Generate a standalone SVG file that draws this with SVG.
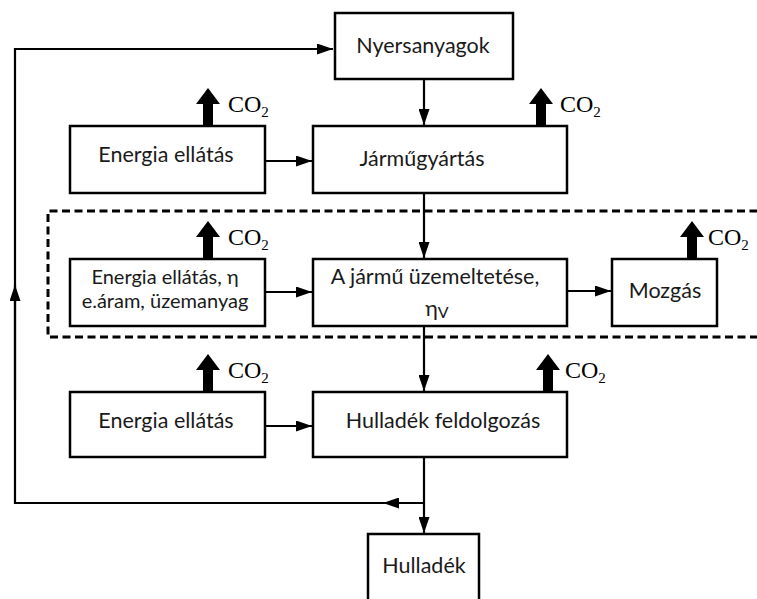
<svg xmlns="http://www.w3.org/2000/svg" width="757" height="599" viewBox="0 0 757 599">
  <defs>
    <style>
      .box { fill: #fff; stroke: #000; stroke-width: 2.5; }
      .lbl { font-family: Lato, "Liberation Sans", sans-serif; font-size: 21.5px; fill: #1a1a1a; text-anchor: middle; }
      .lbl.two { font-size: 20px; }
      .co2 { font-family: "Liberation Serif", "DejaVu Serif", serif; font-size: 24px; fill: #000; }
      .sub { font-size: 15px; }
      .wire { fill: none; stroke: #000; stroke-width: 2.2; }
      .dash { fill: none; stroke: #000; stroke-width: 3; stroke-dasharray: 8 4.5; }
      .emit { fill: #000; }
    </style>
    <marker id="tip" viewBox="0 0 16 11" refX="16" refY="5.5" markerWidth="16" markerHeight="11" markerUnits="userSpaceOnUse" orient="auto">
      <path d="M0,0 L16,5.5 L0,11 Z" fill="#000"/>
    </marker>
    <!-- thick upward emission arrow, origin at the base centre -->
    <path id="emitArrow" d="M-5,0 L-5,-22 L-12,-22 L0,-38 L12,-22 L5,-22 L5,0 Z"/>
  </defs>

  <rect width="757" height="599" fill="#fff"/>

  <!-- use-phase boundary -->
  <path class="dash" d="M770,211 L48,211 L48,337 L770,337"/>

  <g id="connectors">
    <!-- recycling loop back to raw materials -->
    <path class="wire" d="M424,503 L15,503 L15,49 L333,49" marker-end="url(#tip)"/>
    <path class="wire" d="M424,503 L383,503" marker-end="url(#tip)"/>
    <path class="wire" d="M15,400 L15,285" marker-end="url(#tip)"/>
    <!-- main chain -->
    <path class="wire" d="M424,79 L424,125" marker-end="url(#tip)"/>
    <path class="wire" d="M424,193 L424,258" marker-end="url(#tip)"/>
    <path class="wire" d="M424,326 L424,391" marker-end="url(#tip)"/>
    <path class="wire" d="M424,457 L424,533" marker-end="url(#tip)"/>
    <!-- energy inputs -->
    <path class="wire" d="M265,161 L312,161" marker-end="url(#tip)"/>
    <path class="wire" d="M265,292 L312,292" marker-end="url(#tip)"/>
    <path class="wire" d="M265,426 L312,426" marker-end="url(#tip)"/>
    <path class="wire" d="M567,291 L611,291" marker-end="url(#tip)"/>
  </g>

  <g id="emissions">
    <use href="#emitArrow" class="emit" x="208" y="126"/>
    <text class="co2" x="228" y="112">CO<tspan class="sub" dy="5">2</tspan></text>
    <use href="#emitArrow" class="emit" x="541" y="126"/>
    <text class="co2" x="560" y="112">CO<tspan class="sub" dy="5">2</tspan></text>
    <use href="#emitArrow" class="emit" x="208" y="259"/>
    <text class="co2" x="228" y="245">CO<tspan class="sub" dy="5">2</tspan></text>
    <use href="#emitArrow" class="emit" x="692" y="259"/>
    <text class="co2" x="708" y="245">CO<tspan class="sub" dy="5">2</tspan></text>
    <use href="#emitArrow" class="emit" x="208" y="392"/>
    <text class="co2" x="228" y="378">CO<tspan class="sub" dy="5">2</tspan></text>
    <use href="#emitArrow" class="emit" x="548" y="392"/>
    <text class="co2" x="565" y="378">CO<tspan class="sub" dy="5">2</tspan></text>
  </g>

  <g id="nyersanyagok">
    <rect class="box" x="335" y="13" width="178" height="66"/>
    <text class="lbl" x="423" y="53">Nyersanyagok</text>
  </g>

  <g id="energia-gyartas">
    <rect class="box" x="70" y="126" width="195" height="67"/>
    <text class="lbl" x="166" y="162">Energia ellátás</text>
  </g>

  <g id="jarmugyartas">
    <rect class="box" x="313" y="126" width="254" height="67"/>
    <text class="lbl" x="422" y="166">Járműgyártás</text>
  </g>

  <g id="energia-uzem">
    <rect class="box" x="70" y="259" width="195" height="67"/>
    <text class="lbl two" x="165" y="284">Energia ellátás, η</text>
    <text class="lbl two" x="165" y="308">e.áram, üzemanyag</text>
  </g>

  <g id="uzemeltetes">
    <rect class="box" x="313" y="259" width="254" height="67"/>
    <text class="lbl" x="435" y="284">A jármű üzemeltetése,</text>
    <text class="lbl" x="437" y="316">η<tspan font-size="16px" dy="2">V</tspan></text>
  </g>

  <g id="mozgas">
    <rect class="box" x="612" y="259" width="105" height="67"/>
    <text class="lbl" x="665" y="298">Mozgás</text>
  </g>

  <g id="energia-hulladek">
    <rect class="box" x="70" y="392" width="195" height="65"/>
    <text class="lbl" x="166" y="428">Energia ellátás</text>
  </g>

  <g id="hulladek-feldolgozas">
    <rect class="box" x="313" y="392" width="254" height="65"/>
    <text class="lbl" x="443" y="428">Hulladék feldolgozás</text>
  </g>

  <g id="hulladek">
    <rect class="box" x="368" y="534" width="111" height="80"/>
    <text class="lbl" x="424" y="573">Hulladék</text>
  </g>
</svg>
